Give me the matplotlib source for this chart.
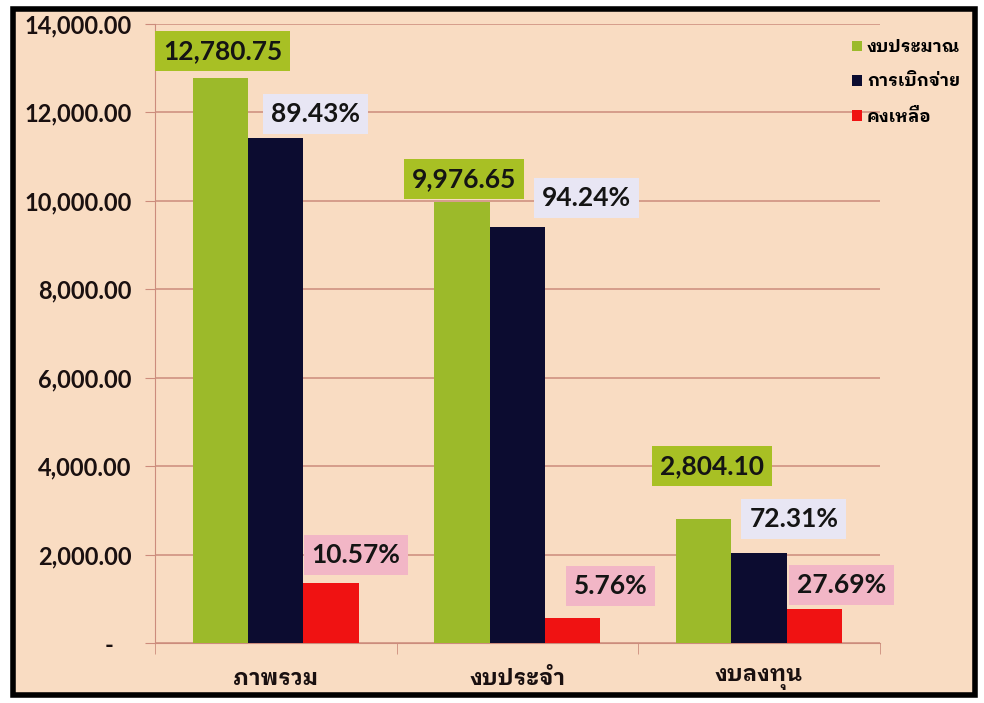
import matplotlib
matplotlib.use("Agg")
import matplotlib.pyplot as plt
import numpy as np
from matplotlib.patches import Rectangle

# data
categories = ["ภาพรวม", "งบประจำ", "งบลงทุน"]
series_names = ["งบประมาณ", "การเบิกจ่าย", "คงเหลือ"]
budget = [12780.75, 9976.65, 2804.10]
spent = [11430.0, 9402.0, 2027.6]
remain = [1350.8, 574.7, 776.5]
budget_labels = ["12,780.75", "9,976.65", "2,804.10"]
spent_labels = ["89.43%", "94.24%", "72.31%"]
remain_labels = ["10.57%", "5.76%", "27.69%"]
yticks = [0, 2000, 4000, 6000, 8000, 10000, 12000, 14000]
ytick_labels = ["-   ", "2,000.00", "4,000.00", "6,000.00", "8,000.00",
                "10,000.00", "12,000.00", "14,000.00"]

num_font = ["Lato", "DejaVu Sans"]
thai_font = ["IBM Plex Sans Thai Looped", "IBM Plex Sans Thai", "DejaVu Sans"]

bg = "#f9dcc2"
fig = plt.figure(figsize=(9.84, 7.03), dpi=100)
fig.patch.set_facecolor("white")
fig.patches.append(Rectangle((0.013, 0.012), 0.978, 0.975, transform=fig.transFigure,
                             facecolor=bg, edgecolor="black", linewidth=4, zorder=-5))

ax = fig.add_axes([0.1575, 0.0853, 0.7365, 0.8806])
ax.set_facecolor("none")

x = np.arange(len(categories))
w = 0.229
colors = ["#9cba2a", "#0c0c30", "#f01212"]
ax.bar(x - w, budget, w, color=colors[0], zorder=3, label=series_names[0])
ax.bar(x, spent, w, color=colors[1], zorder=3, label=series_names[1])
ax.bar(x + w, remain, w, color=colors[2], zorder=3, label=series_names[2])

ax.set_xlim(-0.5, 2.5)
ax.set_ylim(0, 14000)
ax.set_yticks(yticks)
ax.set_yticklabels(ytick_labels, fontsize=17, fontweight="bold", family=num_font, color="#1a1010")
ax.yaxis.grid(True, color="#cc8c7c", linewidth=1.1, zorder=1)
ax.tick_params(axis="y", length=7, color="#cc8c7c", pad=10)

ax.set_xticks(x)
ax.set_xticklabels(categories, fontsize=16, fontweight="bold", family=thai_font, color="#1a1010")
ax.set_xticks([-0.5, 0.5, 1.5, 2.5], minor=True)
ax.tick_params(axis="x", which="major", length=0, pad=18)
ax.tick_params(axis="x", which="minor", length=8, color="#cc8c7c")

for s in ["top", "right"]:
    ax.spines[s].set_visible(False)
ax.spines["left"].set_color("#cc8c7c")
ax.spines["bottom"].set_color("#cc8c7c")

lbl_kw = dict(fontsize=19, fontweight="bold", family=num_font, color="#141414",
              ha="center", va="center", zorder=5)
budget_off = [(2, 27), (2, 23), (8, 53)]
spent_off = [(40, 24), (69, 29), (35, 34)]
remain_off = [(25, 28), (38, 32), (27, 24)]
for i in range(3):
    ax.annotate(budget_labels[i], (x[i] - w, budget[i]), xytext=budget_off[i],
                textcoords="offset pixels",
                bbox=dict(boxstyle="square,pad=0.3", fc="#a8c024", ec="none"), **lbl_kw)
    ax.annotate(spent_labels[i], (x[i], spent[i]), xytext=spent_off[i],
                textcoords="offset pixels",
                bbox=dict(boxstyle="square,pad=0.3", fc="#e8e6f4", ec="none"), **lbl_kw)
    ax.annotate(remain_labels[i], (x[i] + w, remain[i]), xytext=remain_off[i],
                textcoords="offset pixels",
                bbox=dict(boxstyle="square,pad=0.3", fc="#f2b6c6", ec="none"), **lbl_kw)

leg = fig.legend(loc="upper left", bbox_to_anchor=(0.85, 0.965), frameon=False,
                 prop=dict(family=thai_font, weight="bold", size=12.5),
                 handlelength=0.55, handleheight=0.55, handletextpad=0.3, labelspacing=1.05)

fig.savefig("out.png", dpi=100, facecolor=fig.get_facecolor())
